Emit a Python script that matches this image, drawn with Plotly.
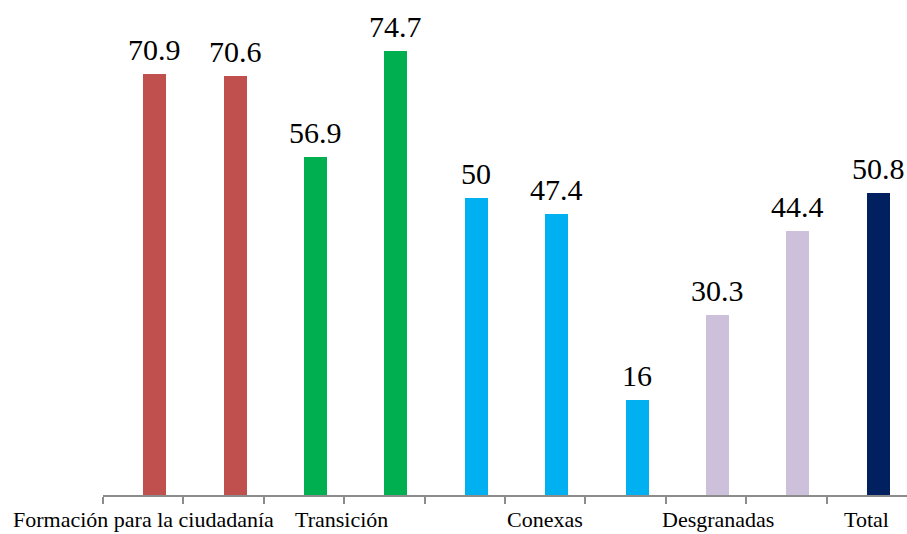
import plotly.graph_objects as go

categories = ["Formación para la ciudadanía", "Transición", "Conexas", "Desgranadas", "Total"]
bar_values = [70.9, 70.6, 56.9, 74.7, 50, 47.4, 16, 30.3, 44.4, 50.8]
bar_groups = [0, 0, 1, 1, 2, 2, 2, 3, 3, 4]
group_colors = ["#C0504D", "#00B050", "#00B0F0", "#CCC0DA", "#002060"]
label_positions = [0, 2.47, 5.0, 7.15, 9.0]

FONT = "Liberation Serif"
offset = 0.143
width = 0.286

xs = [i + offset for i in range(len(bar_values))]
colors = [group_colors[g] for g in bar_groups]

fig = go.Figure()
fig.add_trace(go.Bar(
    x=xs, y=bar_values, width=width,
    marker=dict(color=colors, line=dict(width=0)),
    hoverinfo="skip", showlegend=False,
))

annotations = []
for x, v in zip(xs, bar_values):
    annotations.append(dict(
        x=x, y=v, xref="x", yref="y", text=f"{v:g}", showarrow=False,
        yanchor="bottom", xanchor="center", yshift=6,
        font=dict(family=FONT, size=30, color="#000000"),
    ))
for pos, lab in zip(label_positions, categories):
    annotations.append(dict(
        x=pos, y=0, xref="x", yref="paper", text=lab, showarrow=False,
        yanchor="top", xanchor="center", yshift=-10,
        font=dict(family=FONT, size=22, color="#000000"),
    ))

fig.update_layout(
    width=907, height=534,
    margin=dict(l=103, r=0, t=20, b=39),
    paper_bgcolor="white", plot_bgcolor="white",
    font=dict(family=FONT),
    annotations=annotations,
    bargap=0,
    xaxis=dict(
        range=[-0.5, 9.5], showgrid=False, zeroline=False,
        showline=True, linecolor="#8C8C8C", linewidth=1.5,
        tickmode="array", tickvals=[i - 0.5 for i in range(10)],
        ticks="outside", ticklen=7, tickcolor="#8C8C8C", tickwidth=1.5,
        showticklabels=False,
    ),
    yaxis=dict(
        range=[0, 80], showgrid=False, zeroline=False,
        showline=False, showticklabels=False, ticks="",
    ),
)

fig.write_html(
    "out.html",
    config={"displayModeBar": False},
    post_script="document.body.style.margin='0';document.body.style.padding='0';",
)
